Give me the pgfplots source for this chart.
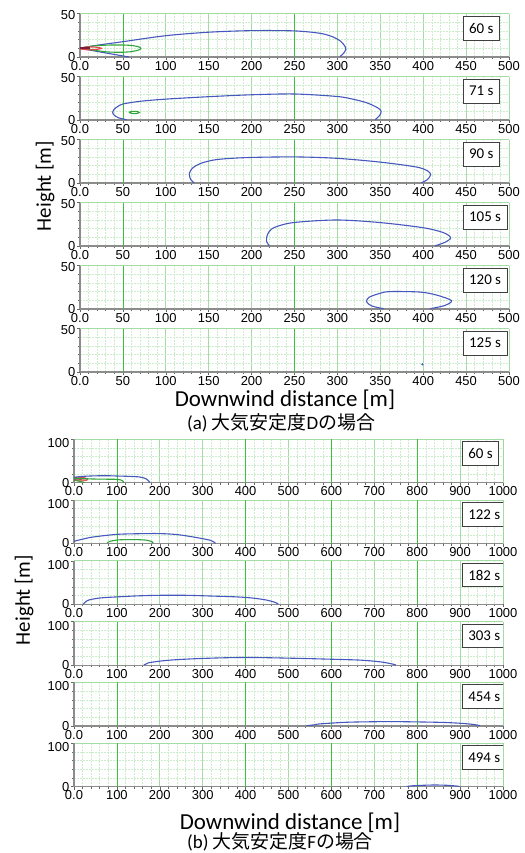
\documentclass[border=0pt]{standalone}
\usepackage{fontspec}
\usepackage{pgfplots}
\pgfplotsset{compat=1.18}
\setmainfont{Carlito}
\newfontfamily\tickfont{Liberation Sans}
\newfontfamily\cjk{Noto Sans CJK JP}

\definecolor{cBlue}{HTML}{4657BE}
\definecolor{cGreen}{HTML}{2FA53A}
\definecolor{cRed}{HTML}{E5484D}
\definecolor{cDark}{HTML}{7A1F3D}
\definecolor{gMaj}{HTML}{A4DDA4}
\definecolor{gMin}{HTML}{CBEDCB}
\definecolor{gDark}{HTML}{3DBE3D}

\pgfplotsset{
  panel/.style={
    scale only axis, width=429bp, height=43.5bp,
    axis x line=bottom, axis y line=left,
    axis line style={-, draw=black!45, line width=1.2bp},
    ymin=0,
    grid=both,
    major grid style={draw=gMaj, line width=0.8bp},
    minor grid style={draw=gMin, line width=0.5bp, dash pattern=on 2bp off 1bp},
    minor x tick num=4, minor y tick num=4,
    tick align=outside,
    major tick length=3bp, minor tick length=2bp,
    tick style={draw=black!60, line width=0.5bp},
    tick label style={font=\fontsize{13}{13}\selectfont\tickfont,
      /pgf/number format/assume math mode=true},
    xticklabel style={inner sep=1bp},
    yticklabel style={inner sep=1.5bp},
    anchor=south west,
  },
  panelA/.style={panel,
    xmin=0, xmax=500, ymax=50,
    xtick={0,50,...,500},
    xticklabels={0.0,50,100,150,200,250,300,350,400,450,500},
    ytick={0,50}, yticklabels={0,{\raisebox{-2bp}[\height][\depth]{50}}},
  },
  panelB/.style={panel,
    xmin=0, xmax=1000, ymax=100,
    xtick={0,100,...,1000},
    xticklabels={0.0,100,200,300,400,500,600,700,800,900,1000},
    ytick={0,100}, yticklabels={0,{\raisebox{-4bp}[\height][\depth]{100}}},
  },
  cb/.style={draw=cBlue, line width=1.1bp, smooth, no marks},
  cg/.style={draw=cGreen, line width=1.1bp, smooth, no marks},
  cr/.style={draw=cRed, line width=1.1bp, smooth, no marks},
}
\tikzset{box/.style={draw=black!75, line width=0.9bp, fill=white, inner xsep=6bp,
  minimum height=23.5bp, font=\fontsize{15}{15}\selectfont}}
% stronger grid lines seen in the source raster
\newcommand\darkA{\draw[gDark, line width=0.8bp] (axis cs:50,0) -- (axis cs:50,50)
  (axis cs:250,0) -- (axis cs:250,50);}
\newcommand\darkB{\draw[gDark, line width=0.8bp] (axis cs:100,0) -- (axis cs:100,100)
  (axis cs:400,0) -- (axis cs:400,100) (axis cs:600,0) -- (axis cs:600,100)
  (axis cs:800,0) -- (axis cs:800,100) (axis cs:1000,0) -- (axis cs:1000,100);}

\begin{document}
\begin{tikzpicture}
\useasboundingbox (0,0) rectangle (525bp,-853bp);

% ---------------- (a) stability D ----------------
\begin{axis}[panelA, at={(80bp,-57bp)}]
\darkA
\addplot[cb, sharp plot] coordinates {(57,0) (28,5) (0,10)};
\addplot[cb] coordinates {(0,10) (20,13.5) (50,17.6) (100,24.5) (150,28.5) (200,30.3)
  (250,30) (280,27.2) (295,23) (304,18) (309,12) (310,8.9) (307,4) (303,0.5)};
\addplot[cg] coordinates {(0,10) (12,12.3) (30,13.6) (50,13.8) (62,13) (69,11.5) (71,9.6)
  (67,7.6) (58,6) (45,5.4) (30,6) (15,8) (0,10)};
\addplot[cr] coordinates {(0,10) (8,11.5) (18,11.3) (25,10) (18,8.5) (8,8.3) (0,9.3)};
\addplot[draw=cDark, line width=2.2bp, sharp plot] coordinates {(0,10) (12,10)};
\node[box, anchor=north west, yshift=-2.5bp] at (axis cs:446,50) {60 s};
\end{axis}

\begin{axis}[panelA, at={(80bp,-120bp)}]
\darkA
\addplot[cb] coordinates {(54.4,0.3) (45,2.5) (40,5.5) (38,8.7) (40,12.5) (44,15.5)
  (50,18.4) (70,21.5) (100,24) (150,26.8) (200,29) (250,29.9) (300,27) (320,23.5)
  (335,19.5) (347,14) (351,10) (349,5) (344,0.3)};
\addplot[cg] coordinates {(57,8.7) (60,9.8) (63,10) (67,9.8) (69,8.7) (67,7.6) (63,7.4)
  (60,7.6) (57,8.7)};
\node[box, anchor=north west, yshift=-2.5bp] at (axis cs:446,50) {71 s};
\end{axis}

\begin{axis}[panelA, at={(80bp,-183bp)}]
\darkA
\addplot[cb] coordinates {(133,0.3) (129,4) (127.4,10.8) (131,17) (140,22.3) (159,26.9)
  (194,29.2) (250,30) (299,28.4) (350,24) (392,18.4) (405,14) (408.7,9.6) (405,4) (398,0.3)};
\node[box, anchor=north west, yshift=-2.5bp] at (axis cs:446,50) {90 s};
\end{axis}

\begin{axis}[panelA, at={(80bp,-246bp)}]
\darkA
\addplot[cb] coordinates {(220.7,0.3) (217.5,5) (217.5,9.6) (220,16) (227,21.5)
  (248.6,26.9) (299,29.9) (350,26.9) (400,21) (423.5,15.4) (432,9.6) (426,4.5) (414,0.3)};
\node[box, anchor=north west, yshift=-2.5bp] at (axis cs:446,50) {105 s};
\end{axis}

\begin{axis}[panelA, at={(80bp,-309bp)}]
\darkA
\addplot[cb] coordinates {(354,0.3) (340,3.5) (334,8.4) (337,13.5) (349.6,18) (361,20)
  (396,19.5) (415.7,16) (433,9.6) (425,4) (408,0.3)};
\node[box, anchor=north west, yshift=-2.5bp] at (axis cs:446,50) {120 s};
\end{axis}

\begin{axis}[panelA, at={(80bp,-372bp)}]
\darkA
\addplot[only marks, mark=*, mark size=0.9bp, color=cBlue] coordinates {(399,8.8)};
\node[box, anchor=north west, yshift=-2.5bp] at (axis cs:446,50) {125 s};
\end{axis}

\node[font=\fontsize{23}{23}\selectfont, anchor=base] at (285bp,-406.7bp) {Downwind distance [m]};
\node[font=\fontsize{19}{19}\selectfont, anchor=base] at (281bp,-429bp) {(a) {\cjk 大気安定度}D{\cjk の場合}};
\node[font=\fontsize{21}{21}\selectfont, rotate=90] at (45bp,-186bp) {Height [m]};

% ---------------- (b) stability F ----------------
\begin{axis}[panelB, at={(74bp,-482.7bp)}]
\darkB
\addplot[draw=cRed, fill=cRed!60, line width=0.8bp, smooth] coordinates {(0,12) (10,12.5)
  (22,12) (30,9.5) (32,7) (26,4.5) (12,4) (0,5)};
\addplot[draw=cDark, line width=1.6bp, sharp plot] coordinates {(0,9) (8,9.4) (18,9)};
\addplot[cb] coordinates {(0,12.4) (20,14.5) (50,15.8) (80,16) (100,15.4) (130,14.5)
  (154,13) (168,9) (175.6,2.3) (177,0.3)};
\addplot[cg] coordinates {(0,10) (20,9.5) (45,8.5) (80,8) (100,7.7) (110,6) (115,3) (116,0.3)};
\addplot[cg] coordinates {(0,6.5) (12,3.5) (25,0.3)};
\node[box, anchor=north west, yshift=-2bp] at (axis cs:904,100) {60 s};
\end{axis}

\begin{axis}[panelB, at={(74bp,-543.5bp)}]
\darkB
\addplot[cb] coordinates {(0,5) (20,10) (45,15) (99.5,21) (150,22.5) (200,22.8) (240,20.5)
  (278,15) (317,7.6) (328.7,1.5) (330,0.3)};
\addplot[cg] coordinates {(77.6,0.3) (78.5,2.5) (83.5,5) (100,8) (123,9) (150,8.8)
  (169,7.6) (182,4) (185,0.5)};
\node[box, anchor=north west, yshift=-2bp] at (axis cs:904,100) {122 s};
\end{axis}

\begin{axis}[panelB, at={(74bp,-604.3bp)}]
\darkB
\addplot[cb] coordinates {(21.8,0.3) (26,5) (35,10) (60,14.5) (99.5,17) (150,19.5)
  (200,20.7) (260,20.7) (320,19) (380,17) (420,14) (450,9.5) (470,4) (476,0.3)};
\node[box, anchor=north west, yshift=-2bp] at (axis cs:904,100) {182 s};
\end{axis}

\begin{axis}[panelB, at={(74bp,-665.1bp)}]
\darkB
\addplot[cb] coordinates {(163,0.3) (170,3.5) (177,6) (224,11.5) (301,15.4) (402.5,17.6)
  (527,15.4) (600,13.5) (667,11.5) (713,7.6) (740,3) (750.6,0.3)};
\node[box, anchor=north west, yshift=-2bp] at (axis cs:904,100) {303 s};
\end{axis}

\begin{axis}[panelB, at={(74bp,-725.9bp)}]
\darkB
\addplot[cb] coordinates {(542,0.3) (560,2.5) (573,4.6) (636,8.4) (700,9.6) (744,9.9)
  (800,9.2) (860,8) (900,6.1) (930,3.5) (946,0.7)};
\node[box, anchor=north west, yshift=-2bp] at (axis cs:904,100) {454 s};
\end{axis}

\begin{axis}[panelB, at={(74bp,-786.7bp)}]
\darkB
\addplot[cb] coordinates {(775.5,0.3) (791,2.3) (837.6,3.9) (870,3.2) (892,1.5) (899,0.3)};
\node[box, anchor=north west, yshift=-2bp] at (axis cs:904,100) {494 s};
\end{axis}

\node[font=\fontsize{23}{23}\selectfont, anchor=base] at (290bp,-829bp) {Downwind distance [m]};
\node[font=\fontsize{19}{19}\selectfont, anchor=base] at (280bp,-848bp) {(b) {\cjk 大気安定度}F{\cjk の場合}};
\node[font=\fontsize{21}{21}\selectfont, rotate=90] at (24bp,-600bp) {Height [m]};

\end{tikzpicture}
\end{document}
